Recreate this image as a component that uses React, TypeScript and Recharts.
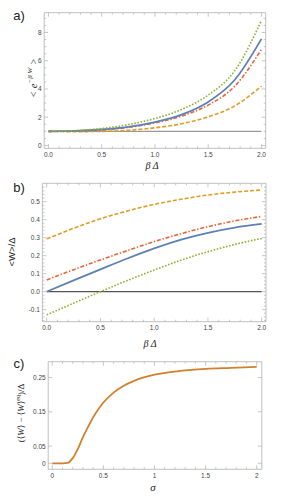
import React from 'react';
import { LineChart, Line, XAxis, YAxis } from 'recharts';

// ---------- data ----------
const betaA = [0, 0.25, 0.5, 0.75, 1, 1.25, 1.5, 1.75, 2];
const aGray = [1, 1, 1, 1, 1, 1, 1, 1, 1];
const aBlue = [1, 1.03, 1.13, 1.32, 1.66, 2.18, 3.08, 4.65, 7.55];
const aGreen = [1, 1.05, 1.2, 1.48, 1.91, 2.55, 3.57, 5.3, 8.85];
const aRed = [1, 1.02, 1.1, 1.28, 1.6, 2.08, 2.86, 4.2, 6.8];
const aOrange = [1, 0.98, 0.995, 1.08, 1.25, 1.54, 2.03, 2.8, 4.2];

const betaB = [0, 0.25, 0.5, 0.75, 1, 1.25, 1.5, 1.75, 2];
const bGray = [0, 0, 0, 0, 0, 0, 0, 0, 0];
const bBlue = [0, 0.063, 0.124, 0.184, 0.24, 0.289, 0.327, 0.356, 0.376];
const bRed = [0.065, 0.122, 0.176, 0.228, 0.278, 0.322, 0.361, 0.393, 0.418];
const bOrange = [0.293, 0.352, 0.405, 0.448, 0.485, 0.513, 0.537, 0.553, 0.565];
const bGreen = [-0.129, -0.064, 0.0, 0.062, 0.12, 0.175, 0.222, 0.262, 0.296];

const sigmaC = [0, 0.05, 0.1, 0.15, 0.2, 0.25, 0.3, 0.35, 0.4, 0.5, 0.6, 0.7, 0.8, 1.0, 1.25, 1.5, 1.75, 2.0];
const cValue = [0, 0, 0, 0.001, 0.015, 0.042, 0.076, 0.106, 0.134, 0.177, 0.206, 0.226, 0.24, 0.258, 0.269, 0.275, 0.278, 0.281];

// ticks
const betaMajor = [0, 0.5, 1, 1.5, 2];
const betaMinor = Array.from({ length: 21 }, (_, i) => i / 10);
const aYMajor = [0, 2, 4, 6, 8];
const aYMinor = Array.from({ length: 19 }, (_, i) => i / 2);
const bYMajor = [-0.1, 0, 0.1, 0.2, 0.3, 0.4, 0.5];
const bYMinor = Array.from({ length: 38 }, (_, i) => Math.round((-0.16 + i * 0.02) * 100) / 100);
const cXMajor = [0, 0.5, 1, 1.5, 2];
const cXMinor = Array.from({ length: 21 }, (_, i) => i / 10);
const cYMajor = [0, 0.05, 0.15, 0.25];

const rowsA = betaA.map((x, i) => ({ x, gray: aGray[i], blue: aBlue[i], green: aGreen[i], red: aRed[i], orange: aOrange[i] }));
const rowsB = betaB.map((x, i) => ({ x, gray: bGray[i], blue: bBlue[i], green: bGreen[i], red: bRed[i], orange: bOrange[i] }));
const rowsC = sigmaC.map((x, i) => ({ x, v: cValue[i] }));

// ---------- style ----------
const FRAME = '#b0b0b0';
const TICKTXT = '#444';
const SANS = '"Liberation Sans", Arial, sans-serif';
const SERIF = '"Liberation Serif", "DejaVu Serif", serif';
const BLUE = '#5e81b5';
const ORANGE = '#e19c24';
const GREEN = '#8fb032';
const RED = '#eb6235';
const CORANGE = '#d3802c';

type Side = 'bottom' | 'top' | 'left' | 'right';

function makeTick(side: Side, majors: number[], fmt: (v: number) => string, withLabel: boolean) {
  return function TickMark(props: any) {
    const { x, y, payload } = props;
    const v = Number(payload.value);
    const major = majors.some((m) => Math.abs(m - v) < 1e-9);
    const len = major ? 4 : 2;
    let x2 = x;
    let y2 = y;
    if (side === 'bottom') y2 = y - len;
    if (side === 'top') y2 = y + len;
    if (side === 'left') x2 = x + len;
    if (side === 'right') x2 = x - len;
    let label = null;
    if (withLabel && major) {
      if (side === 'bottom') {
        label = (
          <text x={x} y={y + 8.5} textAnchor="middle" fontSize={6.5} fill={TICKTXT} fontFamily={SANS}>
            {fmt(v)}
          </text>
        );
      } else if (side === 'left') {
        label = (
          <text x={x - 2.5} y={y + 2.4} textAnchor="end" fontSize={6.5} fill={TICKTXT} fontFamily={SANS}>
            {fmt(v)}
          </text>
        );
      }
    }
    return (
      <g>
        <line x1={x} y1={y} x2={x2} y2={y2} stroke={FRAME} strokeWidth={0.7} />
        {label}
      </g>
    );
  };
}

function frameAxes(
  xDomain: [number, number],
  yDomain: [number, number],
  xTicks: number[],
  xMajors: number[],
  xFmt: (v: number) => string,
  yTicks: number[],
  yMajors: number[],
  yFmt: (v: number) => string
) {
  const common = { type: 'number' as const, allowDataOverflow: true, interval: 0 as const, tickSize: 0, tickMargin: 0, tickLine: false, axisLine: { stroke: FRAME, strokeWidth: 0.8 } };
  return [
    <XAxis key="xb" xAxisId="b" orientation="bottom" dataKey="x" domain={xDomain} ticks={xTicks} height={1} tick={makeTick('bottom', xMajors, xFmt, true)} {...common} />,
    <XAxis key="xt" xAxisId="t" orientation="top" dataKey="x" domain={xDomain} ticks={xTicks} height={1} tick={makeTick('top', xMajors, xFmt, false)} {...common} />,
    <YAxis key="yl" yAxisId="l" orientation="left" domain={yDomain} ticks={yTicks} width={1} tick={makeTick('left', yMajors, yFmt, true)} {...common} />,
    <YAxis key="yr" yAxisId="r" orientation="right" domain={yDomain} ticks={yTicks} width={1} tick={makeTick('right', yMajors, yFmt, false)} {...common} />,
  ];
}

const fmt1 = (v: number) => v.toFixed(1);
const fmt0 = (v: number) => v.toFixed(0);
const fmtC = (v: number) => (v === 0 ? '0' : String(v));

const abs = (left: number, top: number): React.CSSProperties => ({ position: 'absolute', left, top });

function Title({ x, y, rotate, children, font, size, italic }: any) {
  return (
    <div
      style={{
        position: 'absolute',
        left: x,
        top: y,
        transform: `translate(-50%, -50%)${rotate ? ' rotate(-90deg)' : ''}`,
        whiteSpace: 'nowrap',
        fontFamily: font,
        fontSize: size,
        fontStyle: italic ? 'italic' : 'normal',
        color: '#222',
        lineHeight: 1,
      }}
    >
      {children}
    </div>
  );
}

const lineCommon = { type: 'monotone' as const, dot: false, isAnimationActive: false, xAxisId: 'b', yAxisId: 'l', activeDot: false };

export default function App() {
  return (
    <div style={{ position: 'absolute', left: 0, top: 0, width: 281, height: 498, background: '#fff' }}>
      {/* Panel a */}
      <div style={abs(0, 0)}>
        <LineChart width={281} height={172} data={rowsA} margin={{ top: 11.7, left: 43.2, right: 14.3, bottom: 22.7 }}>
          {frameAxes([-0.04, 2.04], [-0.2, 9.4], betaMinor, betaMajor, fmt1, aYMinor, aYMajor, fmt0)}
          <Line {...lineCommon} dataKey="gray" stroke="#9a9a9a" strokeWidth={1.3} />
          <Line {...lineCommon} dataKey="orange" stroke={ORANGE} strokeWidth={1.6} strokeDasharray="4 2" />
          <Line {...lineCommon} dataKey="red" stroke={RED} strokeWidth={1.6} strokeDasharray="4 1.8 1.4 1.8" />
          <Line {...lineCommon} dataKey="blue" stroke={BLUE} strokeWidth={1.8} />
          <Line {...lineCommon} dataKey="green" stroke={GREEN} strokeWidth={1.6} strokeDasharray="1.6 1.6" />
        </LineChart>
      </div>
      {/* Panel b */}
      <div style={abs(0, 172)}>
        <LineChart width={281} height={168} data={rowsB} margin={{ top: 10.3, left: 41.4, right: 14, bottom: 17.3 }}>
          {frameAxes([-0.04, 2.04], [-0.167, 0.602], betaMinor, betaMajor, fmt1, bYMinor, bYMajor, fmt1)}
          <Line {...lineCommon} dataKey="gray" stroke="#555" strokeWidth={1.1} />
          <Line {...lineCommon} dataKey="orange" stroke={ORANGE} strokeWidth={1.6} strokeDasharray="4 2" />
          <Line {...lineCommon} dataKey="red" stroke={RED} strokeWidth={1.6} strokeDasharray="4 1.8 1.4 1.8" />
          <Line {...lineCommon} dataKey="blue" stroke={BLUE} strokeWidth={1.8} />
          <Line {...lineCommon} dataKey="green" stroke={GREEN} strokeWidth={1.6} strokeDasharray="1.6 1.6" />
        </LineChart>
      </div>
      {/* Panel c */}
      <div style={abs(0, 340)}>
        <LineChart width={281} height={158} data={rowsC} margin={{ top: 20.7, left: 47.2, right: 18.2, bottom: 27.7 }}>
          {frameAxes([-0.04, 2.05], [-0.0175, 0.296], cXMinor, cXMajor, fmtC, cYMajor, cYMajor, fmtC)}
          <Line {...lineCommon} dataKey="v" stroke={CORANGE} strokeWidth={1.8} />
        </LineChart>
      </div>

      {/* panel letters */}
      <Title x={19} y={15} font={SANS} size={13}>a)</Title>
      <Title x={19} y={187} font={SANS} size={13}>b)</Title>
      <Title x={19} y={363} font={SANS} size={13}>c)</Title>

      {/* axis titles */}
      <Title x={33} y={78} rotate font={SERIF} size={10.5} italic>
        &lt; <span>e</span>
        <sup style={{ fontSize: 7 }}>−β W</sup> &gt;
      </Title>
      <Title x={152} y={166} font={SERIF} size={10} italic>β Δ</Title>

      <Title x={12} y={252} rotate font={SANS} size={9.5}>&lt;W&gt;/Δ</Title>
      <Title x={150} y={344} font={SERIF} size={10} italic>β Δ</Title>

      <Title x={20} y={413} rotate font={SERIF} size={9}>
        (⟨<i>W</i>⟩ − ⟨<i>W</i>⟩<sup style={{ fontSize: 6 }}>eq</sup>)/Δ
      </Title>
      <Title x={153} y={487} font={SERIF} size={11} italic>σ</Title>
    </div>
  );
}
